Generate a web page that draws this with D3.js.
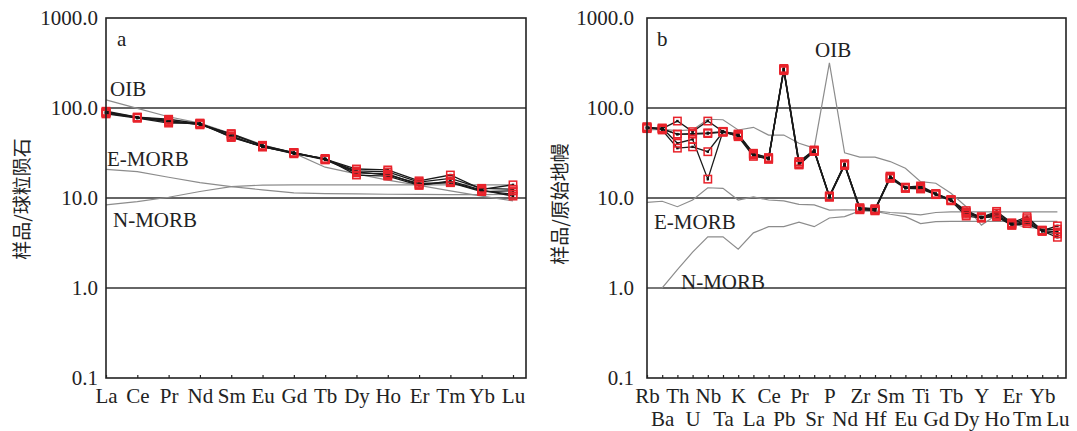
<!DOCTYPE html>
<html>
<head>
<meta charset="utf-8">
<script src="https://cdn.jsdelivr.net/npm/d3@7"></script>
<style>
  body { margin: 0; background: #fff; }
  svg text { font-family: "Liberation Serif", "Times New Roman", serif; fill: #222; }
</style>
</head>
<body>
<div id="chart"></div>
<script>
// ---- panel a: chondrite-normalised REE ----
const reeElems = ["La", "Ce", "Pr", "Nd", "Sm", "Eu", "Gd", "Tb", "Dy", "Ho", "Er", "Tm", "Yb", "Lu"];
const reeSample1 = [90, 79, 75, 67, 51, 38, 32, 27, 21, 20.5, 15.5, 18, 12.5, 14];
const reeSample2 = [88, 78, 70, 66, 48, 37, 31.5, 26.5, 19, 18.5, 14, 15, 12, 11];
const reeSample3 = [86, 77, 68, 68, 47, 37.5, 31, 27.5, 18, 17.5, 13.8, 15.5, 12.2, 10.5];
const reeSample4 = [92, 79, 73, 65, 52, 38.5, 32, 27, 20, 19.5, 15, 16.5, 12.8, 12.5];
const reeSample5 = [89, 78, 71, 67, 49, 37, 31.8, 26.8, 19.5, 18, 14.5, 14.8, 11.8, 12];
const reeOIB = [123, 99, 80, 68, 52, 39, 31.5, 22, 18.5, 15.8, 13.8, 12, 10.5, 9.3];
const reeEMORB = [20.8, 19.6, 17, 14.8, 13.4, 12.3, 11.4, 11.2, 11.1, 11, 11, 10.9, 10.9, 11];
const reeNMORB = [8.4, 9.1, 10.2, 11.8, 13.4, 13.9, 14, 14, 14, 14, 14, 14, 14, 14];

// ---- panel b: primitive-mantle-normalised spider ----
const spiderElems = ["Rb", "Ba", "Th", "U", "Nb", "Ta", "K", "La", "Ce", "Pb", "Pr", "Sr", "P", "Nd",
  "Zr", "Hf", "Sm", "Eu", "Ti", "Gd", "Tb", "Dy", "Y", "Ho", "Er", "Tm", "Yb", "Lu"];
const spiderSample1 = [61, 59, 71.6, 54.6, 71.6, 54.6, 51.3, 31.4, 28, 270, 25.4, 34, 10.5, 23.7,
  7.7, 7.5, 17, 13, 13, 11.1, 9.5, 7.25, 6.1, 7.1, 5.3, 6.2, 4.33, 4.9];
const spiderSample2 = [60, 58, 51.3, 51.3, 52, 54, 49, 30, 27, 265, 23.3, 33, 10.3, 23,
  7.6, 7.3, 16.5, 12.8, 12.6, 10.9, 9.3, 6.3, 6.0, 6.2, 4.97, 5.2, 4.3, 3.66];
const spiderSample3 = [59, 60, 40.6, 44.9, 16.2, 55, 48, 29, 27.5, 260, 24, 33.5, 10.4, 24,
  7.5, 7.2, 17.5, 13.2, 13.6, 11.2, 9.6, 6.6, 6.2, 6.5, 5.1, 5.6, 4.35, 4.2];
const spiderSample4 = [62, 57, 35.8, 37, 32.7, 54, 50, 31, 28, 275, 25, 34, 10.5, 23.5,
  7.8, 7.6, 16.8, 13, 13.2, 11, 9.4, 7, 6.1, 6.8, 5.2, 5.9, 4.4, 4.5];
const spiderSample5 = [60, 59, 51, 52, 53, 54.6, 51, 30.5, 27, 268, 23.5, 33, 10.2, 23.2,
  7.4, 7.4, 17.2, 12.9, 12.8, 11.1, 9.5, 6.8, 6.0, 6.4, 5.0, 5.4, 4.25, 4.0];
const spiderOIB = [57, 58, 56, 57, 75, 74, 57, 61, 50, 50, 40.6, 35.8, 318, 31.8,
  28.5, 28.5, 25.4, 21.4, 15.2, 14.6, 11.3, 8.0, 5.0, 6.5, 5.2, 4.7, 4.6, 4.4];
const spiderEMORB = [8.95, 9.2, 8.0, 9.5, 13, 12.8, 9.5, 10.3, 9.5, 9.3, 8.5, 8.4, 7.35, 7.4,
  7.35, 7.1, 6.6, 6.2, 5.2, 5.47, 5.5, 5.5, 5.5, 5.5, 5.5, 5.5, 5.5, 5.5];
const spiderNMORB = [1.0, 1.0, 1.6, 2.5, 3.7, 3.7, 2.7, 4.1, 4.8, 4.8, 5.4, 4.8, 6.0, 6.2,
  7.2, 7.2, 6.9, 6.75, 6.5, 6.9, 7.0, 7.0, 7.0, 7.0, 7.0, 7.0, 7.0, 7.0];

const yTicks = [0.1, 1, 10, 100, 1000];
const gridValues = [1, 10, 100];

const width = 1077;
const height = 431;
const fontSize = 21;

const svg = d3.select("#chart")
  .append("svg")
  .attr("width", width)
  .attr("height", height);

function drawPanel(p) {
  const x = d3.scalePoint()
    .domain(p.elems)
    .range([p.left, p.xLast]);

  const y = d3.scaleLog()
    .domain([0.1, 1000])
    .range([p.bottom, p.top]);

  const g = svg.append("g");

  // horizontal reference lines at 1, 10, 100
  g.selectAll("line.grid")
    .data(gridValues)
    .join("line")
    .attr("class", "grid")
    .attr("x1", p.left)
    .attr("x2", p.right)
    .attr("y1", d => y(d))
    .attr("y2", d => y(d))
    .attr("stroke", "#333")
    .attr("stroke-width", 1.4);

  const line = d3.line()
    .x((d, i) => x(p.elems[i]))
    .y(d => y(d));

  // OIB / E-MORB / N-MORB in grey
  g.selectAll("path.ref")
    .data(p.refs)
    .join("path")
    .attr("class", "ref")
    .attr("d", d => line(d))
    .attr("fill", "none")
    .attr("stroke", "#8c8c8c")
    .attr("stroke-width", 1.2);

  // samples
  g.selectAll("path.sample")
    .data(p.samples)
    .join("path")
    .attr("class", "sample")
    .attr("d", d => line(d))
    .attr("fill", "none")
    .attr("stroke", "#1a1a1a")
    .attr("stroke-width", 1.3);

  const pts = [];
  p.samples.forEach(s => s.forEach((v, i) => pts.push({ el: p.elems[i], v })));

  g.selectAll("rect.dot")
    .data(pts)
    .join("rect")
    .attr("class", "dot")
    .attr("x", d => x(d.el) - 1.2)
    .attr("y", d => y(d.v) - 1.2)
    .attr("width", 2.4)
    .attr("height", 2.4)
    .attr("fill", "#111");

  g.selectAll("rect.mark")
    .data(pts)
    .join("rect")
    .attr("class", "mark")
    .attr("x", d => x(d.el) - 3.7)
    .attr("y", d => y(d.v) - 3.7)
    .attr("width", 7.4)
    .attr("height", 7.4)
    .attr("fill", "none")
    .attr("stroke", "#e8232b")
    .attr("stroke-width", 1.5);

  // frame
  g.append("rect")
    .attr("x", p.left)
    .attr("y", p.top)
    .attr("width", p.right - p.left)
    .attr("height", p.bottom - p.top)
    .attr("fill", "none")
    .attr("stroke", "#222")
    .attr("stroke-width", 1.6);

  // x axis
  const xAxisGroup = g.append("g")
    .attr("transform", `translate(0, ${p.bottom})`)
    .call(d3.axisBottom(x).tickSizeInner(-3).tickSizeOuter(0));
  xAxisGroup.select(".domain").remove();
  xAxisGroup.selectAll(".tick line").attr("stroke", "#222").attr("stroke-width", 1.2);
  xAxisGroup.selectAll(".tick text")
    .attr("font-size", fontSize)
    .attr("font-family", null)
    .attr("fill", "#222")
    .attr("y", (d, i) => p.twoRows && i % 2 ? 33.5 : 10)
    .attr("dy", "0.71em");

  // y axis
  const yAxisGroup = g.append("g")
    .attr("transform", `translate(${p.left}, 0)`)
    .call(d3.axisLeft(y)
      .tickValues(yTicks)
      .tickFormat(d3.format(".1f"))
      .tickSize(0)
      .tickPadding(p.yPad));
  yAxisGroup.select(".domain").remove();
  yAxisGroup.selectAll(".tick text")
    .attr("font-size", fontSize)
    .attr("font-family", null)
    .attr("fill", "#222");

  // y title
  svg.append("text")
    .attr("transform", `translate(${p.titleX}, ${p.titleY}) rotate(-90)`)
    .attr("text-anchor", "middle")
    .style("font-family", '"Noto Sans CJK SC", sans-serif')
    .attr("font-size", 19)
    .text(p.yTitle);

  // annotations
  g.selectAll("text.note")
    .data(p.notes)
    .join("text")
    .attr("class", "note")
    .attr("x", d => d.x)
    .attr("y", d => d.y)
    .attr("font-size", fontSize)
    .text(d => d.text);
}

drawPanel({
  elems: reeElems,
  samples: [reeSample1, reeSample2, reeSample3, reeSample4, reeSample5],
  refs: [reeOIB, reeEMORB, reeNMORB],
  left: 106, right: 526, xLast: 513, top: 18, bottom: 378,
  yPad: 8, twoRows: false,
  titleX: 29, titleY: 199, yTitle: "样品/球粒陨石",
  notes: [
    { text: "a", x: 117, y: 46 },
    { text: "OIB", x: 110, y: 96 },
    { text: "E-MORB", x: 107, y: 166 },
    { text: "N-MORB", x: 113, y: 227 }
  ]
});

drawPanel({
  elems: spiderElems,
  samples: [spiderSample1, spiderSample2, spiderSample3, spiderSample4, spiderSample5],
  refs: [spiderOIB, spiderEMORB, spiderNMORB],
  left: 647, right: 1066, xLast: 1057.4, top: 18, bottom: 378,
  yPad: 13, twoRows: true,
  titleX: 567, titleY: 204, yTitle: "样品/原始地幔",
  notes: [
    { text: "b", x: 657, y: 46 },
    { text: "OIB", x: 815, y: 57 },
    { text: "E-MORB", x: 654, y: 229 },
    { text: "N-MORB", x: 681, y: 289 }
  ]
});
</script>
</body>
</html>
